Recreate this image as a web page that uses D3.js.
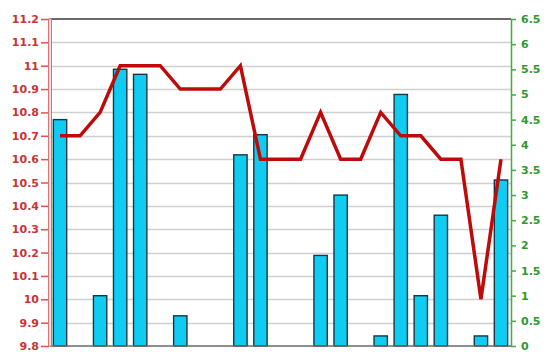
<!DOCTYPE html>
<html>
<head>
<meta charset="utf-8">
<script src="https://cdn.jsdelivr.net/npm/d3@7"></script>
<style>
  body { margin: 0; background: #fff; }
  svg { display: block; }
</style>
</head>
<body>
<div id="chart"></div>
<script>
// categories are unlabeled in the source, just 23 slots
var categories = d3.range(23).map(function(i) { return 'c' + i; });

// bars, read against the right (green) axis; null = no bar
var barValues = [4.5, null, 1.0, 5.5, 5.4, null, 0.6, null, null, 3.8, 4.2, null, null,
  1.8, 3.0, null, 0.2, 5.0, 1.0, 2.6, null, 0.2, 3.3];

// line, read against the left (red) axis
var lineValues = [10.7, 10.7, 10.8, 11.0, 11.0, 11.0, 10.9, 10.9, 10.9, 11.0, 10.6, 10.6,
  10.6, 10.8, 10.6, 10.6, 10.8, 10.7, 10.7, 10.6, 10.6, 10.0, 10.6];

var leftTicks = d3.range(98, 113).map(function(d) { return d / 10; });
var rightTicks = d3.range(0, 14).map(function(d) { return d / 2; });

var labelFont = 'DejaVu Sans, Verdana, sans-serif';

function render(container) {
  var width = 550, height = 364;
  var margin = {top: 19, right: 39, bottom: 18, left: 50};
  var w = width - margin.left - margin.right;
  var h = height - margin.top - margin.bottom;

  var svg = container.append('svg')
      .attr('width', width)
      .attr('height', height)
    .append('g')
      .attr('transform', 'translate(' + margin.left + ',' + margin.top + ')');

  var x = d3.scaleBand()
    .domain(categories)
    .range([0, w])
    .paddingInner(0.335)
    .paddingOuter(0.1675);

  var xCenter = d3.scaleBand().domain(categories).range([0, w]);

  var yLeft = d3.scaleLinear().domain([9.8, 11.2]).range([h, 0]);
  var yRight = d3.scaleLinear().domain([0, 6.5]).range([h, 0]);

  // grid
  svg.append('g')
      .attr('class', 'grid')
    .selectAll('line')
      .data(leftTicks.slice(1, -1))
    .enter().append('line')
      .attr('x1', 0)
      .attr('x2', w)
      .attr('y1', function(d) { return Math.round(yLeft(d)) + 0.5; })
      .attr('y2', function(d) { return Math.round(yLeft(d)) + 0.5; })
      .attr('stroke', '#cfcfcf')
      .attr('stroke-width', 1.5);

  // bars
  svg.append('g')
      .attr('class', 'bars')
    .selectAll('rect')
      .data(categories.map(function(c, i) { return {cat: c, v: barValues[i]}; })
        .filter(function(d) { return d.v != null; }))
    .enter().append('rect')
      .attr('x', function(d) { return x(d.cat); })
      .attr('width', x.bandwidth())
      .attr('y', function(d) { return yRight(d.v); })
      .attr('height', function(d) { return h - yRight(d.v); })
      .attr('fill', '#0fcdf2')
      .attr('stroke', '#1d3540')
      .attr('stroke-width', 1.4);

  // line
  var line = d3.line()
    .x(function(d, i) { return xCenter(categories[i]) + xCenter.bandwidth() / 2; })
    .y(function(d) { return yLeft(d); });

  svg.append('path')
      .datum(lineValues)
      .attr('fill', 'none')
      .attr('stroke', '#bf0a0a')
      .attr('stroke-width', 3.5)
      .attr('stroke-linejoin', 'miter')
      .attr('d', line);

  // frame top + bottom
  svg.append('line')
      .attr('x1', 0).attr('x2', w)
      .attr('y1', 0).attr('y2', 0)
      .attr('stroke', '#6a6a6a').attr('stroke-width', 2);
  svg.append('line')
      .attr('x1', 0).attr('x2', w)
      .attr('y1', h).attr('y2', h)
      .attr('stroke', '#6a6a6a').attr('stroke-width', 1.5);

  // left axis
  var leftAxis = d3.axisLeft(yLeft)
    .tickValues(leftTicks)
    .tickFormat(d3.format('~g'))
    .tickSize(8)
    .tickSizeOuter(0)
    .tickPadding(2);

  var gl = svg.append('g')
      .attr('class', 'axis axis--left')
      .attr('transform', 'translate(-1,0)')
      .call(leftAxis);
  gl.select('.domain').remove();
  gl.selectAll('.tick line').attr('stroke', '#d9534f').attr('stroke-width', 1.5);
  gl.selectAll('.tick text')
      .attr('fill', '#cc3333')
      .attr('font-family', labelFont)
      .attr('font-size', 11)
      .attr('font-weight', 'bold');
  gl.append('rect')
      .attr('x', -0.5).attr('y', 0)
      .attr('width', 3).attr('height', h)
      .attr('fill', '#fbe3e3')
      .attr('stroke', '#e07070')
      .attr('stroke-width', 1);

  // right axis
  var rightAxis = d3.axisRight(yRight)
    .tickValues(rightTicks)
    .tickFormat(d3.format('~g'))
    .tickSize(5)
    .tickSizeOuter(0)
    .tickPadding(5);

  var gr = svg.append('g')
      .attr('class', 'axis axis--right')
      .attr('transform', 'translate(' + w + ',0)')
      .call(rightAxis);
  gr.select('.domain').attr('stroke', '#3fae3f').attr('stroke-width', 1.5);
  gr.selectAll('.tick line').attr('stroke', '#3fae3f').attr('stroke-width', 1.5);
  gr.selectAll('.tick text')
      .attr('fill', '#2e9a2e')
      .attr('font-family', labelFont)
      .attr('font-size', 11)
      .attr('font-weight', 'bold');
}

d3.select('#chart').call(render);
</script>
</body>
</html>
